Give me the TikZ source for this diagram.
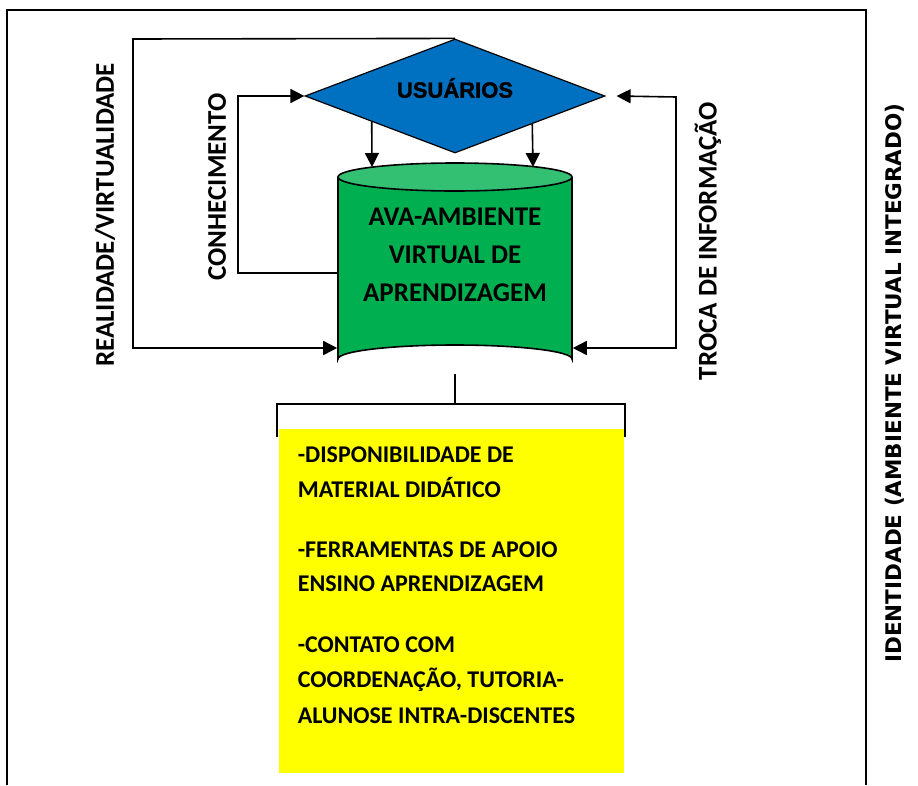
\documentclass[tikz,border=0pt]{standalone}
\usepackage{fontspec}
\setmainfont{Carlito}
\newfontfamily\heavyfont{Liberation Sans}[UprightFont=* Bold,FakeBold=1.6]
\newfontfamily\dvfont{DejaVu Sans}
\usetikzlibrary{shapes.geometric,arrows.meta,calc}
\definecolor{usrblue}{HTML}{0070C0}
\definecolor{cylgreen}{HTML}{00B050}
\definecolor{cyltopc}{HTML}{33C072}
\definecolor{boxyellow}{HTML}{FFFF00}
\begin{document}
\begin{tikzpicture}[x=1pt,y=-1pt,line width=1.6pt,
  arr/.style={-{Triangle[length=14pt,width=14pt]}},
  arr2/.style={{Triangle[length=14pt,width=14pt]}-{Triangle[length=14pt,width=14pt]}},
  sidelbl/.style={font=\bfseries\fontsize{27}{32}\selectfont,rotate=90,inner sep=0},
  boxtxt/.style={font=\bfseries\fontsize{24}{28}\selectfont,anchor=base west,inner sep=0}]
\useasboundingbox (0,0) rectangle (918,785);
% frame
\draw (7,785) -- (7,10) -- (866,10) -- (866,785);
% diamond
\node[diamond,draw,fill=usrblue,minimum width=300pt,minimum height=114pt,inner sep=0,line width=1.2pt] (usr) at (455,96) {};
\node[font=\heavyfont\fontsize{22}{26}\selectfont,inner sep=0] (usrtxt) at (455,88) {USUÁRIOS};
% cylinder
\fill[cylgreen] (338,177) -- (338,359) arc[start angle=180,end angle=360,x radius=117,y radius=14] -- (572,177) -- cycle;
\draw (338,177) -- (338,359) arc[start angle=180,end angle=360,x radius=117,y radius=14] -- (572,177);
\draw[fill=cyltopc] (455,177) ellipse[x radius=117,y radius=14];
\node[minimum width=234pt,minimum height=210pt,inner sep=0] (cyl) at (455,268) {};
\node[font=\bfseries\fontsize{27}{38}\selectfont,align=center,inner sep=0] (cyltxt) at (455,255) {AVA-AMBIENTE\\VIRTUAL DE\\APRENDIZAGEM};
% named points
\coordinate (rvtop) at (133,39);
\coordinate (rvbot) at (133,348);
\coordinate (cnleft) at (238,273);
\coordinate (trright) at (676,97);
\coordinate (trbot) at (676,348);
% connectors
\draw[arr] (usr.north) -- (rvtop) -- (rvbot) -- (cyl.west |- rvbot);
\draw[arr] (cyl.west |- cnleft) -- (cnleft) |- (usr.west);
\draw[arr2] ($(usr.east)+(11,0)$) -- (trright) -- (trbot) -- (cyl.east |- trbot);
\draw[arr] ($(usr.west)!0.447!(usr.south)$) -- (372,167);
\draw[arr] ($(usr.east)!0.487!(usr.south)$) -- (533,167);
% labels
\node[sidelbl] (lrv) at (105,215) {REALIDADE/VIRTUALIDADE};
\node[sidelbl] (lcn) at (217,187) {CONHECIMENTO};
\node[sidelbl] (ltr) at (708,241) {TROCA DE INFORMAÇÃO};
\node[sidelbl,font=\dvfont\bfseries\fontsize{21.5}{26}\selectfont] (lid) at (895,383) {IDENTIDADE (AMBIENTE VIRTUAL INTEGRADO)};
% bottom box
\node[fill=boxyellow,minimum width=345pt,minimum height=344pt,inner sep=0] (box) at (451.5,601) {};
\coordinate (brl) at (277,404);
\coordinate (brr) at (625,404);
\draw (cyl.south) -- (cyl.south |- brl);
\draw (277,437) -- (brl) -- (brr) -- (625,437);
\node[boxtxt] (t1) at (297,462) {-DISPONIBILIDADE DE};
\node[boxtxt] (t2) at (297,497) {MATERIAL DIDÁTICO};
\node[boxtxt] (t3) at (297,557) {-FERRAMENTAS DE APOIO};
\node[boxtxt] (t4) at (297,591) {ENSINO APRENDIZAGEM};
\node[boxtxt] (t5) at (297,652) {-CONTATO COM};
\node[boxtxt] (t6) at (297,687) {COORDENAÇÃO, TUTORIA-};
\node[boxtxt] (t7) at (297,723) {ALUNOSE INTRA-DISCENTES};
\end{tikzpicture}
\end{document}
